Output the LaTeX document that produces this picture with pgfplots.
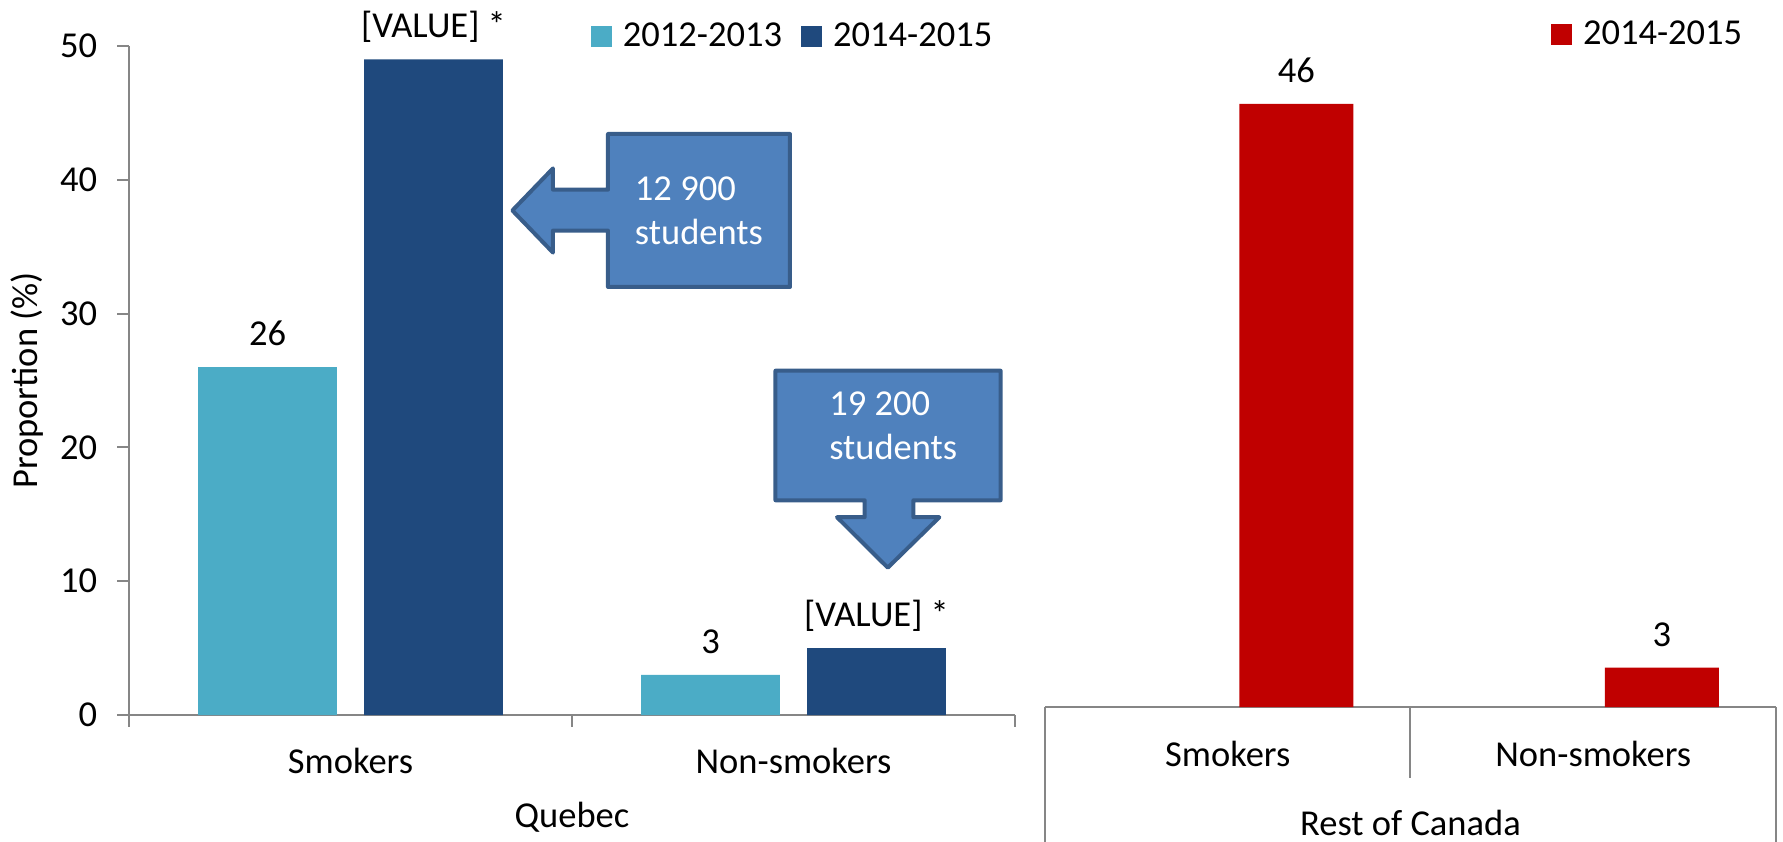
\documentclass[border=0pt]{standalone}
\usepackage{fontspec}
\setmainfont{Carlito}
\usepackage{pgfplots}
\pgfplotsset{compat=1.18}

\definecolor{qlight}{HTML}{4BACC6}
\definecolor{qdark}{HTML}{1F497D}
\definecolor{rocred}{HTML}{C00000}
\definecolor{axisgray}{HTML}{868686}
\definecolor{callfill}{HTML}{4F81BD}
\definecolor{calledge}{HTML}{385D8A}

\newcommand{\cf}{\fontsize{14.6bp}{17.8bp}\selectfont}

\pgfplotsset{
  panel/.style={
    scale only axis, anchor=south west,
    xmin=-0.5, xmax=1.5, ymin=0, ymax=50,
    /pgf/number format/assume math mode=true,
    tick label style={font=\cf},
    label style={font=\cf},
    axis line style={draw=axisgray, line width=0.8bp, -},
    every node near coord/.append style={font=\cf, anchor=base, inner sep=0pt, yshift=8.6bp, text=black},
    legend columns=-1,
    legend image code/.code={\fill[#1, draw=none] (0bp,-4.2bp) rectangle (8.4bp,4.2bp); \path (12.8bp,0bp);},
    legend style={draw=none, fill=none, font=\cf, inner sep=0pt, outer sep=0pt,
      anchor=west, nodes={inner sep=0pt},
      /tikz/every even column/.append style={column sep=7.6bp}},
    clip=false,
  },
}

\begin{document}
\begin{tikzpicture}[font=\cf]
\useasboundingbox (0,0) rectangle (713.2bp,336.8bp);

% Quebec
\begin{axis}[panel,
  at={(51.6bp,50.8bp)}, width=354.4bp, height=267.6bp,
  axis x line*=bottom, axis y line*=left,
  tick align=outside, major tick length=4.6bp,
  tick style={draw=axisgray, line width=0.8bp},
  ytick={0,10,20,30,40,50},
  yticklabel style={anchor=east, inner sep=0pt, xshift=-8bp},
  xtick={-0.5,0.5,1.5}, xticklabels={},
  extra x ticks={0,1}, extra x tick labels={Smokers,Non-smokers},
  extra x tick style={major tick length=0pt, xticklabel style={anchor=base, yshift=-23.4bp}},
  xlabel={Quebec},
  xlabel style={at={(axis description cs:0.5,0)}, anchor=base, yshift=-45bp},
  ylabel={Proportion (\%)},
  ylabel style={at={(axis description cs:-0.1151,0.5)}, anchor=center},
  legend style={at={(axis description cs:0.5214,1.0142)}},
]
\addplot[ybar, bar width=55.5bp, bar shift=-33.2bp, fill=qlight, draw=none,
  nodes near coords, nodes near coords style={xshift=-33.2bp}]
  coordinates {(0,26) (1,3)};
\addlegendentry{2012-2013}
\addplot[ybar, bar width=55.5bp, bar shift=33.2bp, fill=qdark, draw=none,
  nodes near coords={[VALUE] *}, nodes near coords style={xshift=33.2bp}]
  coordinates {(0,49) (1,5)};
\addlegendentry{2014-2015}
\end{axis}

% Rest of Canada
\begin{axis}[panel,
  at={(418bp,54bp)}, width=292.4bp, height=262.2bp,
  axis x line*=bottom, axis y line=none,
  xtick={0,1}, xticklabels={Smokers,Non-smokers},
  xtick style={draw=none},
  xticklabel style={anchor=base, yshift=-23.8bp},
  xlabel={Rest of Canada},
  xlabel style={at={(axis description cs:0.5,0)}, anchor=base, yshift=-51.4bp},
  legend style={at={(axis description cs:0.6922,1.026)}},
]
\addplot[ybar, bar width=45.6bp, bar shift=27.4bp, fill=rocred, draw=none,
  nodes near coords, nodes near coords style={xshift=27.4bp}]
  coordinates {(0,46) (1,3)};
\addlegendentry{2014-2015}
\end{axis}

% box under the second panel and the two callouts, in pixel units
\begin{scope}[x=0.4bp, y=-0.4bp, shift={(0bp,336.8bp)}]
  \draw[axisgray, line width=0.8bp] (1045,707) -- (1045,850)
    (1776,707) -- (1776,850) (1410.5,707) -- (1410.5,778);
  \filldraw[fill=callfill, draw=calledge, line width=1.6bp, line join=round]
    (790,134) -- (608,134) -- (608,189.7) -- (553,189.7) -- (553,168.4)
    -- (512.4,210.5) -- (553,252.6) -- (553,230.6) -- (608,230.6)
    -- (608,287) -- (790,287) -- cycle;
  \filldraw[fill=callfill, draw=calledge, line width=1.6bp, line join=round]
    (775.5,370.7) -- (1000.6,370.7) -- (1000.6,500.3) -- (913.4,500.3)
    -- (913.4,517.2) -- (939.4,517.2) -- (887.8,567.7) -- (837,517.2)
    -- (864.7,517.2) -- (864.7,500.3) -- (775.5,500.3) -- cycle;
  \node[white, anchor=base west, inner sep=0pt] at (634.5,200.2) {12 900};
  \node[white, anchor=base west, inner sep=0pt] at (634.5,244.4) {students};
  \node[white, anchor=base west, inner sep=0pt] at (828.8,415.6) {19 200};
  \node[white, anchor=base west, inner sep=0pt] at (828.8,459.3) {students};
\end{scope}
\end{tikzpicture}
\end{document}
